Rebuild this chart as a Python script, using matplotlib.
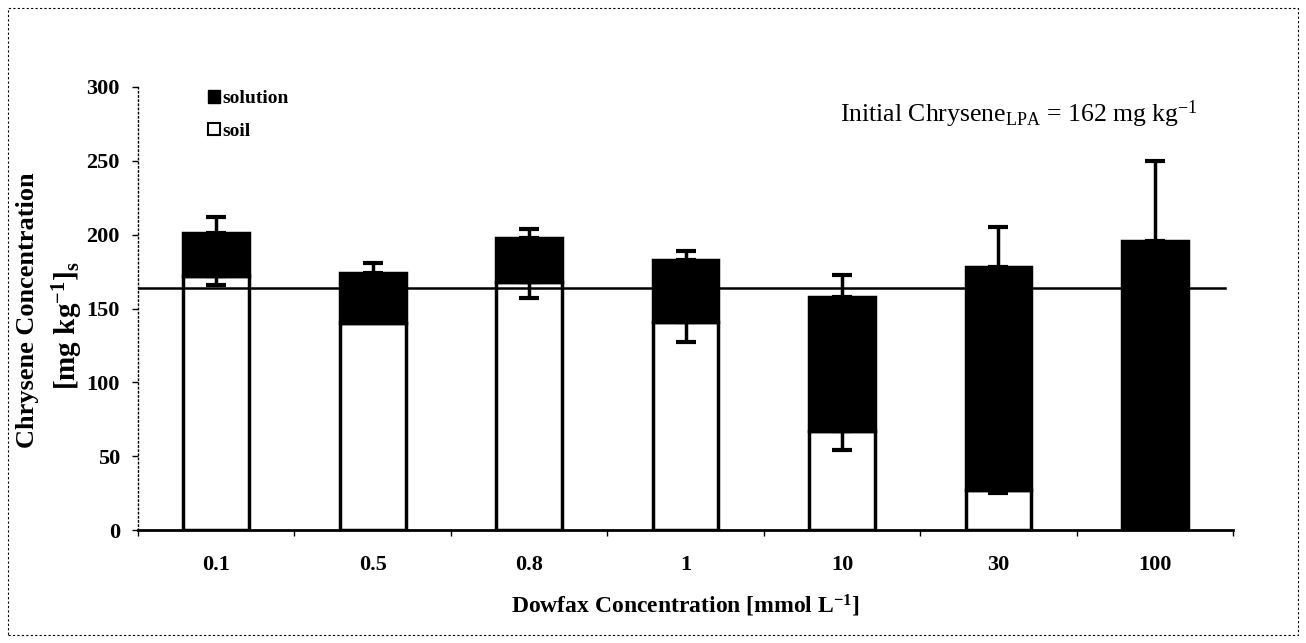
import matplotlib
matplotlib.use("Agg")
import matplotlib.pyplot as plt
from matplotlib.patches import Patch, Rectangle
import numpy as np

categories = ['0.1', '0.5', '0.8', '1', '10', '30', '100']
soil = [172, 140, 168, 141, 67, 27, 0]
solution = [29, 34, 30, 42, 91, 151, 196]
solution_err = [11, 7, 6, 6, 15, 27, 54]
soil_err = [6, 0, 11, 14, 13, 2, 0]
initial_level = 164
yticks = [0, 50, 100, 150, 200, 250, 300]

plt.rcParams['font.family'] = ['Liberation Serif', 'DejaVu Serif']
plt.rcParams['mathtext.fontset'] = 'custom'
plt.rcParams['mathtext.rm'] = 'Liberation Serif'
plt.rcParams['mathtext.bf'] = 'Liberation Serif:bold'
plt.rcParams['mathtext.default'] = 'regular'

fig = plt.figure(figsize=(13.06, 6.43), dpi=100)
ax = fig.add_axes([0.1057, 0.1757, 0.8385, 0.689])

x = np.arange(len(categories))
w = 0.42
ax.bar(x, soil, width=w, color='white', edgecolor='black', linewidth=2.5, zorder=2)
ax.bar(x, solution, width=w, bottom=soil, color='black', edgecolor='black', linewidth=2.5, zorder=2)

total = np.array(soil) + np.array(solution)
ax.errorbar(x, total, yerr=[np.zeros(len(x)), solution_err], fmt='none', ecolor='black',
            elinewidth=2.5, capsize=7, capthick=3, zorder=3)
se = np.array(soil_err)
m = se > 0
ax.errorbar(x[m], np.array(soil)[m], yerr=[se[m], np.zeros(m.sum())], fmt='none', ecolor='black',
            elinewidth=2.5, capsize=7, capthick=3, zorder=3)

ax.plot([-0.5, 6.45], [initial_level, initial_level], color='black', linewidth=1.8, zorder=4)

ax.set_xlim(-0.5, 6.5)
ax.set_ylim(0, 300)
ax.set_yticks(yticks)
ax.set_yticklabels([str(v) for v in yticks], fontsize=16, fontweight='bold')
ax.set_xticks(x)
ax.set_xticklabels(categories, fontsize=16, fontweight='bold')
ax.tick_params(axis='x', length=0, pad=18)
ax.set_xticks(np.arange(-0.5, 7, 1), minor=True)
ax.tick_params(axis='x', which='minor', length=4, width=1, direction='out')
ax.tick_params(axis='y', length=4, width=1, direction='out', pad=9)

for s in ['top', 'right']:
    ax.spines[s].set_visible(False)
ax.spines['left'].set_linewidth(1)
ax.spines['left'].set_linestyle((0, (1, 2)))
ax.spines['bottom'].set_linewidth(2)

ax.set_xlabel('Dowfax Concentration [mmol L$^{-1}$]', fontsize=17, fontweight='bold', labelpad=13)
fig.text(0.021, 0.518, 'Chrysene Concentration', rotation=90, fontsize=19, fontweight='bold',
         ha='center', va='center')
fig.text(0.052, 0.494, '[mg kg$^{-1}$]$_s$', rotation=90, fontsize=21, fontweight='bold',
         ha='center', va='center')

ax.text(0.968, 0.939, 'Initial Chrysene$_{LPA}$ = 162 mg kg$^{-1}$', transform=ax.transAxes,
        fontsize=18.5, ha='right', va='center')

handles = [Patch(facecolor='black', edgecolor='black', label='solution'),
           Patch(facecolor='white', edgecolor='black', linewidth=1.5, label='soil')]
ax.legend(handles=handles, loc='upper left', bbox_to_anchor=(0.057, 1.01), frameon=False,
          prop={'weight': 'bold', 'size': 14}, handlelength=0.6, handleheight=0.6,
          handletextpad=0.15, labelspacing=0.8, borderaxespad=0)

fig.patches.append(Rectangle((0.006, 0.012), 0.988, 0.975, transform=fig.transFigure,
                             fill=False, edgecolor='black', linewidth=0.8, linestyle=(0, (2, 2))))

fig.savefig('out.png', dpi=100)
